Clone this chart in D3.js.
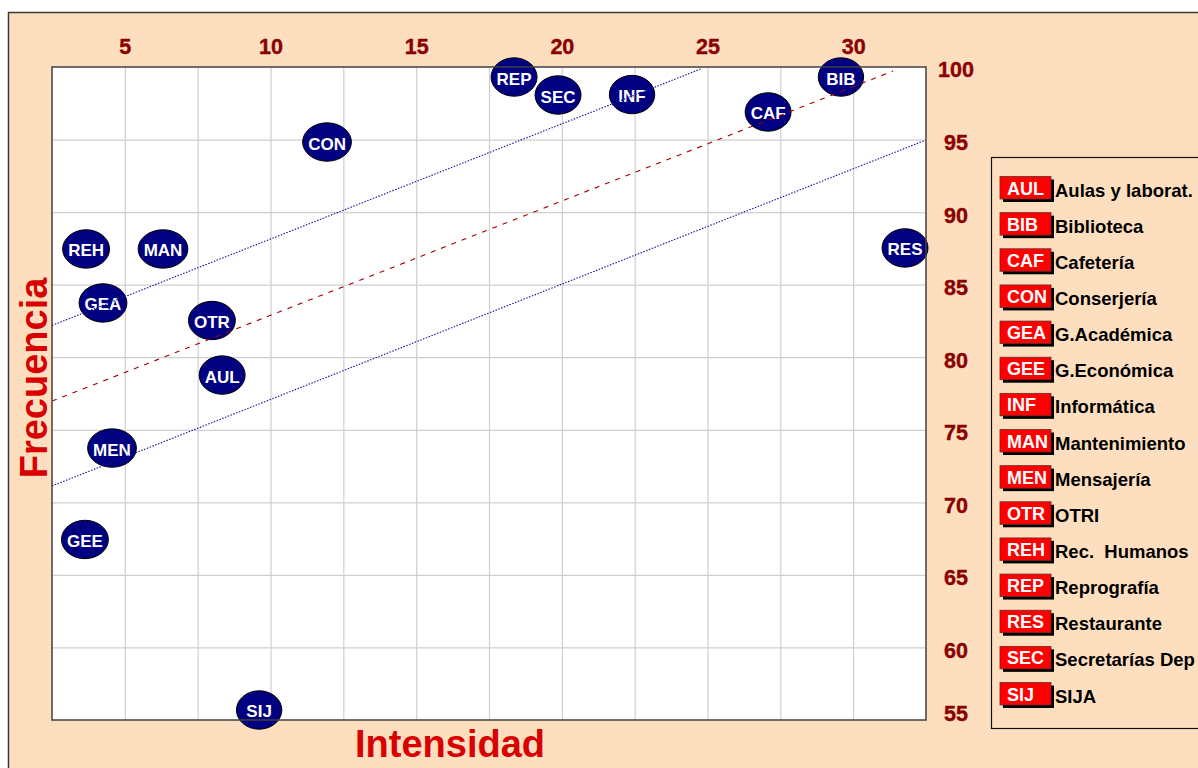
<!DOCTYPE html>
<html>
<head>
<meta charset="utf-8">
<script src="https://d3js.org/d3.v7.min.js"></script>
<style>
body { margin: 0; background: #fff; }
svg { display: block; font-family: "Liberation Sans", Arial, sans-serif; }
</style>
</head>
<body>
<script>
//wrap everything in a self-executing anonymous function to move to local scope
(function(){

//unit codes and their full names (legend order)
var codes = ["AUL", "BIB", "CAF", "CON", "GEA", "GEE", "INF", "MAN", "MEN", "OTR", "REH", "REP", "RES", "SEC", "SIJ"];
var names = ["Aulas y laborat.", "Biblioteca", "Cafetería", "Conserjería", "G.Académica", "G.Económica", "Informática",
    "Mantenimiento", "Mensajería", "OTRI", "Rec.  Humanos", "Reprografía", "Restaurante", "Secretarías Dep", "SIJA"];

//values
var intensidad = [8.34, 29.58, 27.08, 11.94, 4.25, 3.63, 22.41, 6.31, 4.56, 7.99, 3.67, 18.36, 31.78, 19.87, 9.61];
var frecuencia = [78.77, 99.31, 96.90, 94.83, 83.74, 67.44, 98.10, 87.46, 73.74, 82.53, 87.46, 99.31, 87.53, 98.07, 55.69];

//trend line and its band, as end points [intensidad, frecuencia]
var trendMid = [[2.5, 76.98], [31.37, 99.72]];
var bandUpper = [[2.5, 82.19], [24.76, 99.86]];
var bandLower = [[2.5, 71.13], [32.5, 94.97]];

//tick labels and grid values
var xTicks = [5, 10, 15, 20, 25, 30];
var yTicks = [55, 60, 65, 70, 75, 80, 85, 90, 95, 100];
var xGrid = [5, 7.5, 10, 12.5, 15, 17.5, 20, 22.5, 25, 27.5, 30];
var yGrid = [60, 65, 70, 75, 80, 85, 90, 95];

var peach = "#FDDFBF",
    tickColor = "#8B0000",
    titleColor = "#D80000",
    bubbleColor = "#000080";

window.onload = setChart();

function setChart(){
    var width = 1198,
        height = 768;
    var plot = {left: 52, top: 67, right: 926, bottom: 720};

    var svg = d3.select("body")
        .append("svg")
        .attr("width", width)
        .attr("height", height);

    //outer chart frame
    svg.append("rect")
        .attr("x", 8.5)
        .attr("y", 12.5)
        .attr("width", width)
        .attr("height", height)
        .attr("fill", peach)
        .attr("stroke", "#3a3a3a")
        .attr("stroke-width", 1.5);

    var x = d3.scaleLinear().domain([2.5, 32.5]).range([plot.left, plot.right]);
    var y = d3.scaleLinear().domain([55, 100]).range([plot.bottom, plot.top]);

    //plot area
    svg.append("rect")
        .attr("x", plot.left)
        .attr("y", plot.top)
        .attr("width", plot.right - plot.left)
        .attr("height", plot.bottom - plot.top)
        .attr("fill", "#fff");

    //gridlines
    var gx = svg.append("g")
        .attr("transform", "translate(0," + plot.bottom + ")")
        .call(d3.axisBottom(x).tickValues(xGrid).tickSize(-(plot.bottom - plot.top)).tickFormat(""));
    gx.select(".domain").remove();
    gx.selectAll("line").attr("stroke", "#cfcfcf").attr("stroke-width", 1.2);

    var gy = svg.append("g")
        .attr("transform", "translate(" + plot.left + ",0)")
        .call(d3.axisLeft(y).tickValues(yGrid).tickSize(-(plot.right - plot.left)).tickFormat(""));
    gy.select(".domain").remove();
    gy.selectAll("line").attr("stroke", "#cfcfcf").attr("stroke-width", 1.2);

    //tick labels on top
    var xAxis = svg.append("g")
        .attr("transform", "translate(0," + plot.top + ")")
        .call(d3.axisTop(x).tickValues(xTicks).tickSize(0).tickPadding(13));
    xAxis.attr("font-family", null).attr("font-size", null);
    xAxis.select(".domain").remove();
    xAxis.selectAll("text")
        .attr("fill", tickColor)
        .attr("stroke", tickColor)
        .attr("stroke-width", 0.4)
        .style("font-size", "21.5px")
        .style("font-weight", "bold");

    //tick labels on the right
    var yAxis = svg.append("g")
        .attr("transform", "translate(" + plot.right + ",0)")
        .call(d3.axisRight(y).tickValues(yTicks).tickSize(0));
    yAxis.attr("font-family", null).attr("font-size", null);
    yAxis.select(".domain").remove();
    yAxis.selectAll("text")
        .attr("fill", tickColor)
        .attr("stroke", tickColor)
        .attr("stroke-width", 0.4)
        .attr("text-anchor", "middle")
        .attr("x", 30)
        .attr("y", function(d){ return d == y.domain()[0] ? -6 : 3; })
        .style("font-size", "21.5px")
        .style("font-weight", "bold");

    //bubbles
    var bubbles = svg.append("g")
        .selectAll(".bubble")
        .data(codes)
        .enter()
        .append("g")
        .attr("class", "bubble")
        .attr("transform", function(d, i){
            return "translate(" + x(intensidad[i]) + "," + y(frecuencia[i]) + ")";
        });

    var ellipses = bubbles.append("ellipse")
        .attr("fill", bubbleColor)
        .attr("stroke", "#000")
        .attr("stroke-width", 1)
        .attr("ry", 19.2);

    var labels = bubbles.append("text")
        .attr("text-anchor", "middle")
        .attr("y", 7.5)
        .attr("fill", "#fff")
        .style("font-size", "17px")
        .style("font-weight", "bold")
        .text(function(d){ return d; });

    //size each ellipse to its label
    labels.each(function(d, i){
        var w = this.getComputedTextLength();
        d3.select(ellipses.nodes()[i]).attr("rx", Math.max(22.7, w / 2 + 5.5));
    });

    //trend lines drawn over the bubbles
    svg.append("clipPath")
        .attr("id", "plotClip")
        .append("rect")
        .attr("x", plot.left)
        .attr("y", plot.top)
        .attr("width", plot.right - plot.left)
        .attr("height", plot.bottom - plot.top);

    var line = d3.line()
        .x(function(d){ return x(d[0]); })
        .y(function(d){ return y(d[1]); });

    var lines = svg.append("g").attr("clip-path", "url(#plotClip)");
    lines.append("path")
        .datum(trendMid)
        .attr("d", line)
        .attr("fill", "none")
        .attr("stroke", "#A00000")
        .attr("stroke-width", 1.1)
        .attr("stroke-dasharray", "5,6");
    [bandUpper, bandLower].forEach(function(b){
        lines.append("path")
            .datum(b)
            .attr("d", line)
            .attr("fill", "none")
            .attr("stroke", "#1010A0")
            .attr("stroke-width", 1.1)
            .attr("stroke-dasharray", "1.5,1.5");
    });

    //plot border
    svg.append("rect")
        .attr("x", plot.left)
        .attr("y", plot.top)
        .attr("width", plot.right - plot.left)
        .attr("height", plot.bottom - plot.top)
        .attr("fill", "none")
        .attr("stroke", "#404040")
        .attr("stroke-width", 1.5);

    //axis titles
    svg.append("text")
        .attr("x", 450)
        .attr("y", 757)
        .attr("text-anchor", "middle")
        .attr("fill", titleColor)
        .style("font-size", "38px")
        .style("font-weight", "bold")
        .text("Intensidad");

    svg.append("text")
        .attr("transform", "translate(47,378) rotate(-90)")
        .attr("text-anchor", "middle")
        .attr("fill", titleColor)
        .style("font-size", "38px")
        .style("font-weight", "bold")
        .text("Frecuencia");

    setLegend(svg);
};

//legend with red code boxes
function setLegend(svg){
    var legend = svg.append("g");

    legend.append("rect")
        .attr("x", 991.5)
        .attr("y", 157.5)
        .attr("width", 230)
        .attr("height", 571)
        .attr("fill", peach)
        .attr("stroke", "#111")
        .attr("stroke-width", 1.2);

    var rowY = d3.scalePoint()
        .domain(codes)
        .range([188, 694]);

    var items = legend.selectAll(".item")
        .data(codes)
        .enter()
        .append("g")
        .attr("class", "item")
        .attr("transform", function(d){ return "translate(1000," + rowY(d) + ")"; });

    //shadow
    items.append("rect")
        .attr("x", 3)
        .attr("y", -8.5)
        .attr("width", 51)
        .attr("height", 22.5)
        .attr("fill", "#000");

    items.append("rect")
        .attr("x", 0)
        .attr("y", -11.5)
        .attr("width", 51)
        .attr("height", 22.5)
        .attr("fill", "#FF0000")
        .attr("stroke", "#6a2a2a")
        .attr("stroke-width", 0.8);

    items.append("text")
        .attr("x", 7)
        .attr("y", 6.5)
        .attr("fill", "#fff")
        .style("font-size", "18px")
        .style("font-weight", "bold")
        .text(function(d){ return d; });

    items.append("text")
        .attr("x", 55)
        .attr("y", 8.5)
        .attr("fill", "#000")
        .style("font-size", "18.5px")
        .style("font-weight", "bold")
        .style("white-space", "pre")
        .text(function(d, i){ return names[i]; });
};

})();
</script>
</body>
</html>
